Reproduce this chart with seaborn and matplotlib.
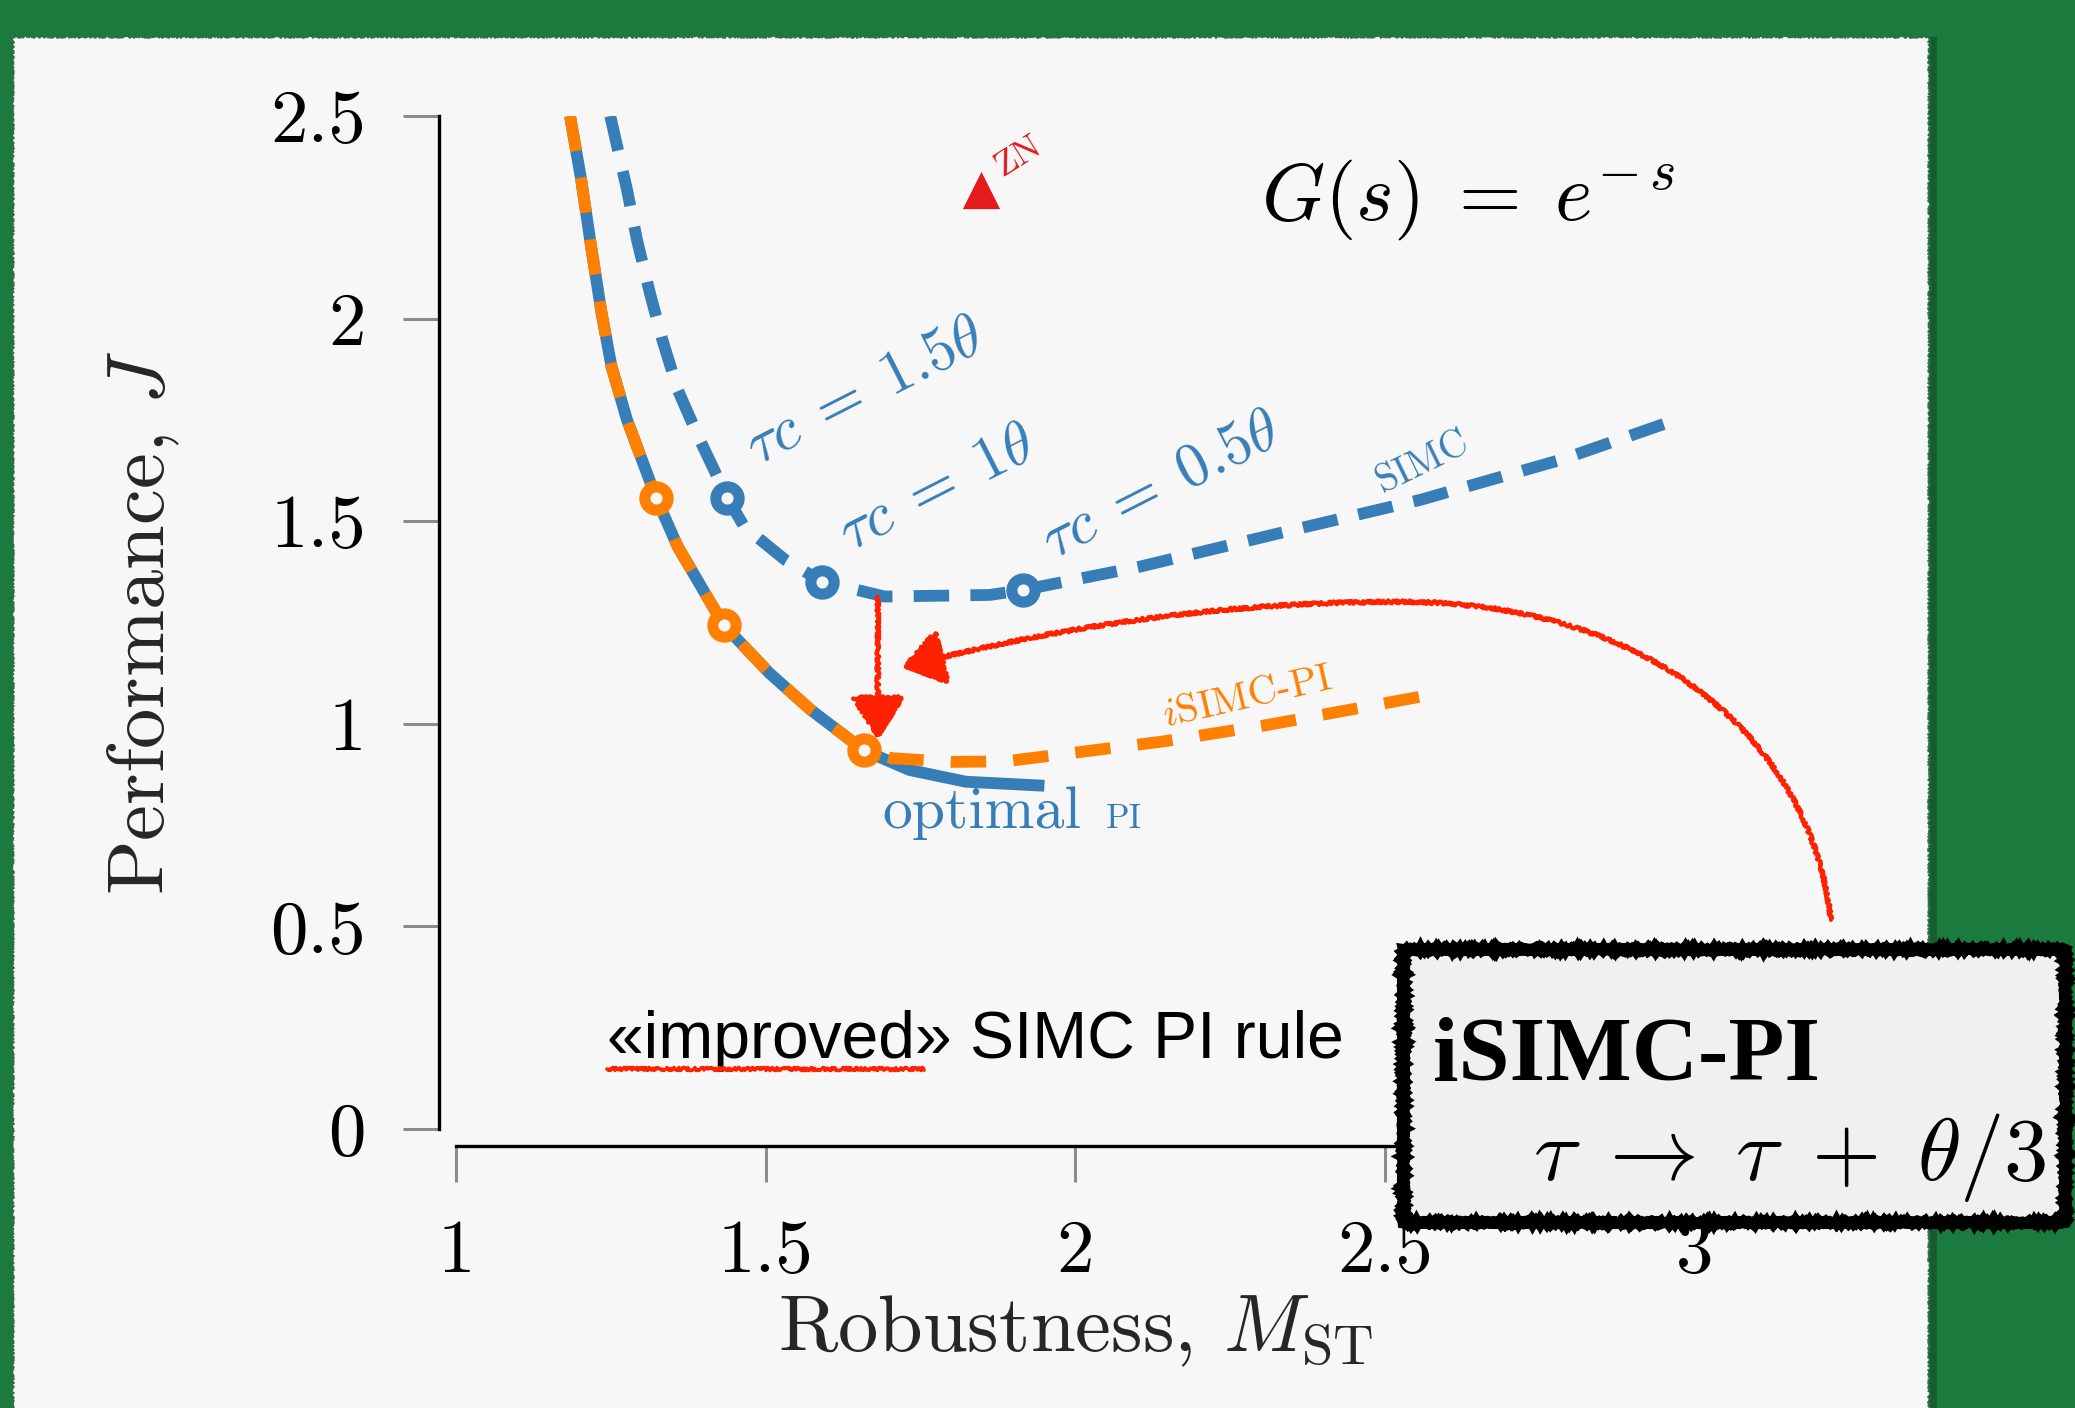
import matplotlib
matplotlib.use("Agg")
import matplotlib.pyplot as plt
import seaborn as sns
from matplotlib.patches import Rectangle, FancyArrowPatch
from matplotlib.path import Path

# ---------------- data ----------------
opt_x = [1.184, 1.202, 1.218, 1.235, 1.251, 1.276, 1.323, 1.358, 1.432, 1.506,
         1.573, 1.658, 1.732, 1.823, 1.950]
opt_y = [2.500, 2.343, 2.178, 2.013, 1.882, 1.750, 1.558, 1.437, 1.244, 1.125,
         1.034, 0.935, 0.886, 0.857, 0.847]

isimc_x = [1.184, 1.202, 1.218, 1.235, 1.251, 1.276, 1.323, 1.358, 1.432, 1.506,
           1.573, 1.658, 1.704, 1.800, 1.885, 1.970, 2.140, 2.310, 2.586]
isimc_y = [2.500, 2.343, 2.178, 2.013, 1.882, 1.750, 1.558, 1.437, 1.244, 1.125,
           1.034, 0.935, 0.915, 0.906, 0.907, 0.923, 0.956, 0.997, 1.075]

simc_x = [1.249, 1.276, 1.292, 1.313, 1.333, 1.358, 1.391, 1.438, 1.465, 1.531,
          1.591, 1.692, 1.862, 1.915, 2.105, 2.331, 2.558, 2.785, 2.960]
simc_y = [2.500, 2.318, 2.195, 2.063, 1.948, 1.824, 1.709, 1.558, 1.487, 1.405,
          1.351, 1.314, 1.318, 1.330, 1.388, 1.471, 1.553, 1.652, 1.745]

simc_tau_x = [1.438, 1.591, 1.915]
simc_tau_y = [1.558, 1.351, 1.330]
simc_tau_labels = [r"$\tau c \;=\; 1.5\theta$", r"$\tau c \;=\; 1\theta$",
                   r"$\tau c \;=\; 0.5\theta$"]

isimc_tau_x = [1.323, 1.432, 1.658]
isimc_tau_y = [1.558, 1.244, 0.935]

zn_x = [1.848]
zn_y = [2.318]

x_ticks = [1, 1.5, 2, 2.5, 3]
x_ticklabels = ["1", "1.5", "2", "2.5", "3"]
y_ticks = [0, 0.5, 1, 1.5, 2, 2.5]
y_ticklabels = ["0", "0.5", "1", "1.5", "2", "2.5"]

# ---------------- style ----------------
BLUE = "#377eb8"
ORANGE = "#ff7f00"
TRI_RED = "#e41a1c"
PEN_RED = "#ff2200"
PANEL = "#f7f7f7"
GREEN = "#1b7a3d"

sns.set_theme(style="ticks")
plt.rcParams["font.family"] = ["cmr10", "DejaVu Serif"]
plt.rcParams["mathtext.fontset"] = "cm"
plt.rcParams["axes.unicode_minus"] = False
plt.rcParams["axes.formatter.use_mathtext"] = True

fig = plt.figure(figsize=(20.75, 14.08), dpi=100, facecolor=GREEN)

# background panel
bg = fig.add_axes([0, 0, 1, 1], zorder=-10)
bg.set_xlim(0, 1)
bg.set_ylim(0, 1)
bg.axis("off")
bg.add_patch(Rectangle((0.0063 + 0.004, -0.02), 0.9234, 0.9937,
                       facecolor="#0f4a24", edgecolor="none", alpha=0.6))
panel = Rectangle((0.0063, -0.02), 0.9234, 0.9937, facecolor=PANEL,
                  edgecolor="#2f6f45", linewidth=1.2)
panel.set_sketch_params(1.0, 2, 3)
bg.add_patch(panel)

ax = fig.add_axes([0.2198, 0.1982, 0.5969, 0.7194])
ax.set_facecolor("none")

# ---------------- curves ----------------
sns.lineplot(x=opt_x, y=opt_y, ax=ax, color=BLUE, linewidth=8.5, sort=False,
             estimator=None, solid_capstyle="butt", zorder=2)
sns.lineplot(x=isimc_x, y=isimc_y, ax=ax, color=ORANGE, linewidth=8.5, sort=False,
             estimator=None, linestyle=(0, (3, 2.3)), dash_capstyle="butt", zorder=3)
sns.lineplot(x=simc_x, y=simc_y, ax=ax, color=BLUE, linewidth=8.5, sort=False,
             estimator=None, linestyle=(0, (3, 1.8)), dash_capstyle="butt", zorder=3)

sns.scatterplot(x=simc_tau_x, y=simc_tau_y, ax=ax, marker="o", s=280,
                facecolor=PANEL, edgecolor=BLUE, linewidth=8, zorder=6)
sns.scatterplot(x=isimc_tau_x, y=isimc_tau_y, ax=ax, marker="o", s=280,
                facecolor=PANEL, edgecolor=ORANGE, linewidth=8, zorder=6)
sns.scatterplot(x=zn_x, y=zn_y, ax=ax, marker="^", s=720, color=TRI_RED,
                linewidth=0, zorder=6)

# ---------------- axes ----------------
ax.set_xlim(1, 3)
ax.set_ylim(0, 2.5)
ax.set_xticks(x_ticks)
ax.set_xticklabels(x_ticklabels)
ax.set_yticks(y_ticks)
ax.set_yticklabels(y_ticklabels)
ax.tick_params(axis="both", direction="out", length=26, width=2.2,
               color="#8c8c8c", pad=27, labelsize=54, labelcolor="black")
sns.despine(ax=ax, offset=12)
ax.spines["left"].set_bounds(0, 2.5)
ax.spines["bottom"].set_bounds(1, 3)
for sp in ("left", "bottom"):
    ax.spines[sp].set_linewidth(2.4)
    ax.spines[sp].set_color("black")

ax.set_xlabel(r"Robustness, $M_{\mathrm{ST}}$", fontsize=58)
ax.set_ylabel(r"Performance, $J$", fontsize=58)
ax.xaxis.set_label_coords(0.5, -0.163)
ax.yaxis.set_label_coords(-0.221, 0.5)

# ---------------- annotations ----------------
tau_pos = [(1.485, 1.637), (1.636, 1.425), (1.964, 1.405)]
for (tx, ty), lab in zip(tau_pos, simc_tau_labels):
    ax.text(tx, ty, lab, rotation=27, rotation_mode="anchor", ha="left",
            va="baseline", fontsize=44, color=BLUE)

ax.text(2.496, 1.569, "SIMC", rotation=26, rotation_mode="anchor", ha="left",
        va="baseline", fontsize=28, color=BLUE)
ax.text(2.146, 0.993, r"$i$SIMC-PI", rotation=13, rotation_mode="anchor",
        ha="left", va="baseline", fontsize=29, color=ORANGE)
ax.text(1.689, 0.742, "optimal", ha="left", va="baseline", fontsize=43, color=BLUE)
ax.text(2.049, 0.742, "PI", ha="left", va="baseline", fontsize=25, color=BLUE)
ax.text(1.881, 2.349, "ZN", rotation=32, rotation_mode="anchor", ha="left",
        va="baseline", fontsize=26, color=TRI_RED)
ax.text(2.300, 2.244, r"$G(s) \;=\; e^{-\,s}$", ha="left", va="baseline",
        fontsize=58, color="black")

ax.text(1.243, 0.175, "«improved» SIMC PI rule", ha="left", va="baseline",
        fontsize=47.5, color="black", family=["Liberation Sans", "DejaVu Sans"])
ul, = ax.plot([1.243, 1.756], [0.147, 0.147], color=PEN_RED, linewidth=2.6,
              clip_on=False, zorder=5)
ul.set_sketch_params(1.5, 3, 4)

# hand drawn red arrows
arr1 = FancyArrowPatch(posA=(1.681, 1.314), posB=(1.681, 0.962),
                       arrowstyle="-|>,head_length=1.35,head_width=0.85",
                       mutation_scale=20, color=PEN_RED, linewidth=3,
                       shrinkA=0, shrinkB=0, zorder=7)
arr1.set_sketch_params(1.5, 3, 4)
ax.add_patch(arr1)

verts = [(3.220, 0.516), (3.188, 0.958), (2.932, 1.301), (2.526, 1.301),
         (2.185, 1.301), (1.928, 1.219), (1.721, 1.141)]
codes = [Path.MOVETO, Path.CURVE4, Path.CURVE4, Path.CURVE4,
         Path.CURVE4, Path.CURVE4, Path.CURVE4]
arr2 = FancyArrowPatch(path=Path(verts, codes),
                       arrowstyle="-|>,head_length=1.3,head_width=0.9",
                       mutation_scale=20, color=PEN_RED, linewidth=3,
                       transform=ax.transData, zorder=7, clip_on=False)
arr2.set_sketch_params(1.5, 3, 4)
ax.add_patch(arr2)

# ---------------- boxed note ----------------
shadow = Rectangle((0.6761 + 0.003, 0.1321 - 0.004), 0.3190, 0.1939,
                   transform=fig.transFigure, facecolor="black", alpha=0.25,
                   edgecolor="none", zorder=20)
fig.add_artist(shadow)
box = Rectangle((0.6761, 0.1321), 0.3190, 0.1939, transform=fig.transFigure,
                facecolor="#f0f0f0", edgecolor="black", linewidth=8, zorder=21)
box.set_sketch_params(1.0, 2, 3)
fig.add_artist(box)
fig.text(0.6906, 0.2330, "iSIMC-PI", ha="left", va="baseline", fontsize=66,
         fontweight="bold", family=["Liberation Serif", "DejaVu Serif"],
         color="black", zorder=22)
fig.text(0.9865, 0.1619, r"$\tau \;\rightarrow\; \tau \;+\; \theta/3$", ha="right",
         va="baseline", fontsize=64, color="black", zorder=22)

fig.savefig("out.png", dpi=100, facecolor=GREEN)
